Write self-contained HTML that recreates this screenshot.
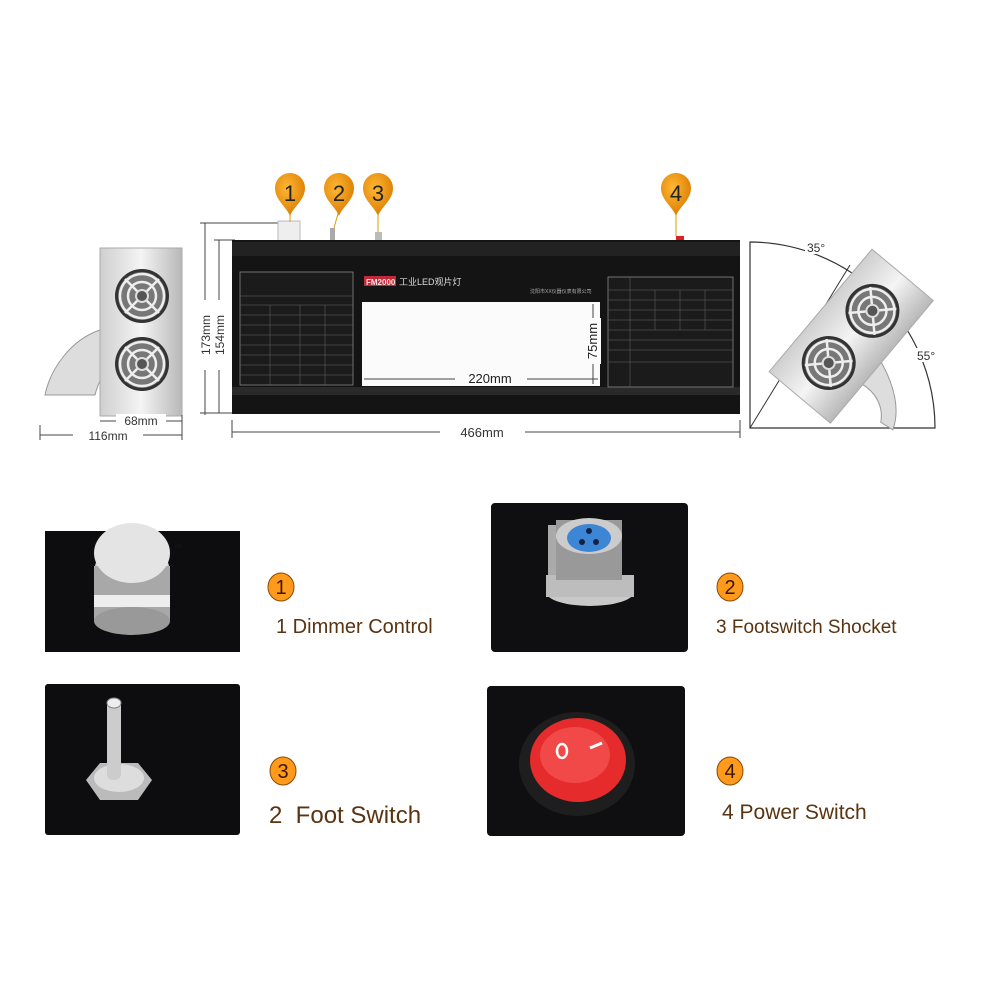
<!DOCTYPE html>
<html><head><meta charset="utf-8"><style>
html,body{margin:0;padding:0;background:#fff;width:1000px;height:1000px;overflow:hidden}
svg{display:block}
text{font-family:"Liberation Sans","Noto Sans CJK SC",sans-serif}
</style></head><body>
<svg width="1000" height="1000" viewBox="0 0 1000 1000" xmlns="http://www.w3.org/2000/svg">
<defs>
<radialGradient id="pin" cx="40%" cy="35%" r="70%"><stop offset="0" stop-color="#ffb733"/><stop offset="1" stop-color="#d97a00"/></radialGradient>
<linearGradient id="steel" x1="0" x2="1"><stop offset="0" stop-color="#cfcfcf"/><stop offset=".5" stop-color="#f4f4f4"/><stop offset="1" stop-color="#b8b8b8"/></linearGradient>
<g id="fan"><circle r="27" fill="#333"/><circle r="24" fill="#777"/><circle r="22" fill="none" stroke="#eee" stroke-width="2.5"/><circle r="14" fill="none" stroke="#eee" stroke-width="2.5"/><path d="M-17-17L17 17M-17 17L17-17" stroke="#eee" stroke-width="2.5"/><circle r="6" fill="#555" stroke="#ddd" stroke-width="2"/></g>
<g id="pinm"><path d="M0 24 C-4 14 -15 8 -15 -4 A15 15 0 1 1 15 -4 C15 8 4 14 0 24Z" fill="url(#pin)"/></g>
</defs>
<!-- side panel left -->
<path d="M100 330 C70 340 50 370 45 395 L95 395 C100 375 110 365 120 360Z" fill="#ddd" stroke="#999"/>
<rect x="100" y="248" width="82" height="168" fill="url(#steel)" stroke="#aaa"/>
<use href="#fan" x="142" y="296"/><use href="#fan" x="142" y="364"/>
<g stroke="#444" stroke-width="1"><line x1="40" y1="435" x2="182" y2="435"/><line x1="100" y1="421" x2="182" y2="421"/><line x1="40" y1="425" x2="40" y2="440"/><line x1="182" y1="415" x2="182" y2="440"/></g>
<rect x="116" y="414" width="50" height="13" fill="#fff"/><text x="141" y="425" font-size="12" text-anchor="middle" fill="#333">68mm</text>
<rect x="73" y="428" width="70" height="13" fill="#fff"/><text x="108" y="440" font-size="12" text-anchor="middle" fill="#333">116mm</text>
<!-- height dims -->
<g stroke="#444"><line x1="205" y1="223" x2="205" y2="415"/><line x1="219" y1="240" x2="219" y2="413"/><line x1="200" y1="223" x2="280" y2="223"/><line x1="214" y1="240" x2="235" y2="240"/><line x1="200" y1="413" x2="235" y2="413"/></g>
<rect x="197" y="300" width="30" height="70" fill="#fff"/>
<text transform="translate(210,335) rotate(-90)" font-size="12" text-anchor="middle" fill="#333">173mm</text>
<text transform="translate(224,335) rotate(-90)" font-size="12" text-anchor="middle" fill="#333">154mm</text>
<!-- main unit -->
<rect x="278" y="221" width="22" height="20" fill="#eee" stroke="#bbb"/>
<rect x="330" y="228" width="5" height="13" fill="#aaa"/><rect x="375" y="232" width="7" height="10" fill="#bbb"/>
<rect x="676" y="236" width="8" height="5" fill="#d22"/>
<rect x="232" y="240" width="508" height="174" fill="#141414"/>
<rect x="232" y="242" width="508" height="14" fill="#222"/>
<rect x="232" y="387" width="508" height="8" fill="#2a2a2a"/>
<rect x="240" y="272" width="113" height="113" fill="#1b1b1b" stroke="#888" stroke-width="0.8"/>
<g stroke="#666" stroke-width=".5">
<line x1="240" y1="296" x2="353" y2="296"/><line x1="240" y1="305" x2="353" y2="305"/><line x1="240" y1="315" x2="353" y2="315"/>
<line x1="240" y1="325" x2="353" y2="325"/><line x1="240" y1="335" x2="353" y2="335"/><line x1="240" y1="345" x2="353" y2="345"/><line x1="240" y1="355" x2="353" y2="355"/><line x1="240" y1="365" x2="353" y2="365"/><line x1="240" y1="375" x2="353" y2="375"/>
<line x1="270" y1="305" x2="270" y2="385"/><line x1="300" y1="305" x2="300" y2="385"/><line x1="325" y1="305" x2="325" y2="385"/></g>
<rect x="364" y="276" width="32" height="10" fill="#c02a3a"/><text x="366" y="285" font-size="8" fill="#fdd" font-weight="bold">FM2000</text><text x="399" y="285" font-size="9" fill="#ddd">工业LED观片灯</text>
<text x="530" y="293" font-size="5" fill="#aaa">沈阳市XX仪器仪表有限公司</text>
<rect x="362" y="302" width="238" height="84" fill="#fbfbfb"/>
<rect x="608" y="277" width="125" height="110" fill="#1b1b1b" stroke="#888" stroke-width=".8"/>
<g stroke="#666" stroke-width=".5"><line x1="608" y1="290" x2="733" y2="290"/><line x1="608" y1="300" x2="733" y2="300"/><line x1="608" y1="310" x2="733" y2="310"/><line x1="608" y1="320" x2="733" y2="320"/><line x1="608" y1="330" x2="733" y2="330"/><line x1="608" y1="340" x2="733" y2="340"/><line x1="608" y1="350" x2="733" y2="350"/><line x1="608" y1="362" x2="733" y2="362"/><line x1="630" y1="277" x2="630" y2="387"/><line x1="655" y1="290" x2="655" y2="330"/><line x1="680" y1="290" x2="680" y2="330"/><line x1="705" y1="290" x2="705" y2="330"/></g>
<g stroke="#444"><line x1="364" y1="379" x2="598" y2="379"/><line x1="593" y1="304" x2="593" y2="384"/></g>
<rect x="455" y="371" width="72" height="14" fill="#fbfbfb"/><text x="490" y="383" font-size="13" text-anchor="middle" fill="#222">220mm</text>
<rect x="585" y="318" width="16" height="46" fill="#fbfbfb"/><text transform="translate(597,341) rotate(-90)" font-size="13" text-anchor="middle" fill="#222">75mm</text>
<g stroke="#444"><line x1="232" y1="432" x2="740" y2="432"/><line x1="232" y1="420" x2="232" y2="438"/><line x1="740" y1="420" x2="740" y2="438"/></g>
<rect x="440" y="424" width="85" height="16" fill="#fff"/><text x="482" y="437" font-size="13" text-anchor="middle" fill="#333">466mm</text>
<!-- pins -->
<line x1="290" y1="210" x2="290" y2="222" stroke="#d9a000"/><line x1="339" y1="210" x2="334" y2="228" stroke="#d9a000"/><line x1="378" y1="210" x2="378" y2="232" stroke="#d9a000"/><line x1="676" y1="210" x2="676" y2="236" stroke="#d9a000"/>
<use href="#pinm" x="290" y="192"/><use href="#pinm" x="339" y="192"/><use href="#pinm" x="378" y="192"/><use href="#pinm" x="676" y="192"/>
<g font-size="22" text-anchor="middle" fill="#222"><text x="290" y="201">1</text><text x="339" y="201">2</text><text x="378" y="201">3</text><text x="676" y="201">4</text></g>
<!-- right angle view -->
<path d="M750 242 L750 428 L935 428 A186 186 0 0 0 750 242Z" fill="none" stroke="#333" stroke-width="1.2"/>
<line x1="750" y1="428" x2="850" y2="265" stroke="#333"/>
<g transform="translate(848,340) rotate(40)">
<path d="M38 -5 C65 5 85 20 92 40 L78 42 C70 28 55 22 38 25Z" fill="#ddd" stroke="#999"/>
<rect x="-40" y="-85" width="80" height="160" fill="url(#steel)" stroke="#aaa"/>
<use href="#fan" x="0" y="-38"/><use href="#fan" x="0" y="30"/></g>
<rect x="805" y="241" width="24" height="13" fill="#fff"/><text x="807" y="252" font-size="12" fill="#333">35°</text>
<rect x="915" y="348" width="26" height="14" fill="#fff"/><text x="917" y="360" font-size="12" fill="#333">55°</text>
<!-- photos -->
<rect x="45" y="531" width="195" height="121" fill="#0d0d0f"/>
<ellipse cx="132" cy="574" rx="38" ry="36" fill="#d8d8d8"/>
<rect x="94" y="566" width="76" height="55" fill="#a8a8a8"/><rect x="94" y="595" width="76" height="12" fill="#eee"/>
<ellipse cx="132" cy="621" rx="38" ry="14" fill="#999"/><ellipse cx="132" cy="553" rx="38" ry="30" fill="#e4e4e4"/>
<path d="M113 558l6-6 3 6z" fill="#111" transform="translate(60,-10)"/>
<rect x="491" y="503" width="197" height="149" rx="4" fill="#0f0f11"/>
<rect x="548" y="525" width="52" height="62" fill="#aaa"/><ellipse cx="590" cy="592" rx="44" ry="14" fill="#c9c9c9"/><rect x="546" y="575" width="88" height="22" fill="#bdbdbd"/><rect x="556" y="520" width="66" height="60" fill="#999"/>
<ellipse cx="589" cy="536" rx="33" ry="18" fill="#ccc"/><ellipse cx="589" cy="538" rx="22" ry="14" fill="#3d86d6"/>
<circle cx="589" cy="531" r="3" fill="#124"/><circle cx="582" cy="542" r="3" fill="#124"/><circle cx="596" cy="542" r="3" fill="#124"/>
<rect x="45" y="684" width="195" height="151" rx="3" fill="#0d0d0f"/>
<path d="M86 780 L100 763 L138 763 L152 780 L138 800 L100 800Z" fill="#bbb"/><ellipse cx="119" cy="778" rx="25" ry="14" fill="#ddd"/>
<rect x="107" y="700" width="14" height="80" rx="6" fill="#ccc"/><ellipse cx="114" cy="703" rx="7" ry="5" fill="#eee" stroke="#888"/>
<rect x="487" y="686" width="198" height="150" rx="4" fill="#0f0f11"/>
<ellipse cx="577" cy="764" rx="58" ry="52" fill="#1e1e1e"/><ellipse cx="578" cy="760" rx="48" ry="42" fill="#e52b2b"/><ellipse cx="575" cy="755" rx="35" ry="28" fill="#f14848"/>
<ellipse cx="562" cy="751" rx="5" ry="7" fill="none" stroke="#fff" stroke-width="2.5"/><line x1="590" y1="748" x2="602" y2="743" stroke="#fff" stroke-width="3"/>
<!-- badges and labels -->
<g fill="#ff9a1c" stroke="#8a4a00" stroke-width="1"><ellipse cx="281" cy="587" rx="13" ry="14"/><ellipse cx="730" cy="587" rx="13" ry="14"/><ellipse cx="283" cy="771" rx="13" ry="14"/><ellipse cx="730" cy="771" rx="13" ry="14"/></g>
<g font-size="20" text-anchor="middle" fill="#3a1800"><text x="281" y="594">1</text><text x="730" y="594">2</text><text x="283" y="778">3</text><text x="730" y="778">4</text></g>
<g fill="#5a3310"><text x="276" y="633" font-size="20">1 Dimmer Control</text><text x="716" y="633" font-size="19">3 Footswitch Shocket</text><text x="269" y="823" font-size="24">2&#160; Foot Switch</text><text x="722" y="819" font-size="21">4 Power Switch</text></g>
</svg>
</body></html>
